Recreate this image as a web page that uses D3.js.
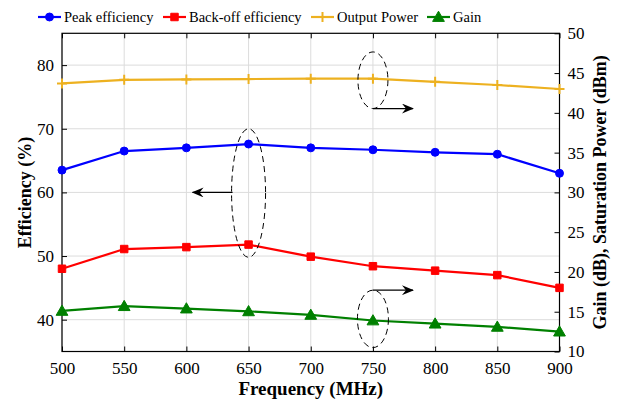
<!DOCTYPE html>
<html>
<head>
<meta charset="utf-8">
<script src="https://cdn.jsdelivr.net/npm/d3@7"></script>
<style>
  body { margin: 0; background: #fff; }
  svg text { font-family: "Liberation Serif", "Tinos", "Times New Roman", "DejaVu Serif", serif; }
</style>
</head>
<body>
<svg id="chart"></svg>
<script>
const W = 617, H = 403;
const M = { l: 62, r: 57.5, t: 33.3, b: 51.5 };
const FONT = '"Liberation Serif", "Tinos", "Times New Roman", "DejaVu Serif", serif';

const freq = [500, 550, 600, 650, 700, 750, 800, 850, 900];
const peakEff = [63.5, 66.5, 67.0, 67.6, 67.0, 66.7, 66.3, 66.0, 63.0];
const backoffEff = [48.0, 51.1, 51.4, 51.8, 49.9, 48.4, 47.7, 47.0, 45.0];
const outPower = [43.7, 44.15, 44.2, 44.25, 44.3, 44.3, 43.9, 43.5, 43.0];
const gain = [15.1, 15.7, 15.4, 15.05, 14.6, 13.9, 13.5, 13.1, 12.5];

const xTicks = [500, 550, 600, 650, 700, 750, 800, 850, 900];
const leftTicks = [40, 50, 60, 70, 80];
const rightTicks = [10, 15, 20, 25, 30, 35, 40, 45, 50];

const series = [
  { name: "Peak efficiency", vals: peakEff, axis: "L", color: "#0000ff", mark: "circle" },
  { name: "Back-off efficiency", vals: backoffEff, axis: "L", color: "#ff0000", mark: "square" },
  { name: "Output Power", vals: outPower, axis: "R", color: "#edb120", mark: "plus" },
  { name: "Gain", vals: gain, axis: "R", color: "#008000", mark: "triangle" }
];

const svg = d3.select("#chart").attr("width", W).attr("height", H)
  .attr("font-family", FONT);
const x = d3.scaleLinear().domain([500, 900]).range([M.l, W - M.r]);
const yL = d3.scaleLinear().domain([35, 85]).range([H - M.b, M.t]);
const yR = d3.scaleLinear().domain([10, 50]).range([H - M.b, M.t]);

// grid
const grid = svg.append("g").attr("stroke", "#dcdcdc").attr("stroke-width", 1);
grid.selectAll(".gx").data(xTicks).join("line")
  .attr("x1", d => x(d)).attr("x2", d => x(d)).attr("y1", M.t).attr("y2", H - M.b);
grid.selectAll(".gy").data(leftTicks).join("line")
  .attr("x1", M.l).attr("x2", W - M.r).attr("y1", d => yL(d)).attr("y2", d => yL(d));

// axes (ticks inward)
const styleAxis = (g) => {
  g.attr("font-family", FONT).attr("font-size", 17);
  g.select(".domain").remove();
  g.selectAll(".tick line").attr("stroke", "#000").attr("stroke-width", 1);
  g.selectAll(".tick text").attr("fill", "#000");
};
svg.append("g").attr("transform", `translate(0,${H - M.b})`)
  .call(d3.axisBottom(x).tickValues(xTicks).tickSize(-5).tickPadding(10))
  .call(styleAxis);
svg.append("g").attr("transform", `translate(0,${M.t})`)
  .call(d3.axisTop(x).tickValues(xTicks).tickSize(-5).tickFormat(""))
  .call(styleAxis);
svg.append("g").attr("transform", `translate(${M.l},0)`)
  .call(d3.axisLeft(yL).tickValues(leftTicks).tickSize(-5).tickPadding(8))
  .call(styleAxis);
svg.append("g").attr("transform", `translate(${W - M.r},0)`)
  .call(d3.axisRight(yR).tickValues(rightTicks).tickSize(-5).tickPadding(8))
  .call(styleAxis);

svg.append("rect").attr("x", M.l).attr("y", M.t)
  .attr("width", W - M.r - M.l).attr("height", H - M.b - M.t)
  .attr("fill", "none").attr("stroke", "#000").attr("stroke-width", 1.2);

// markers
const sym = {
  circle: d3.symbol(d3.symbolCircle, 50),
  square: d3.symbol(d3.symbolSquare, 56),
  triangle: d3.symbol(d3.symbolTriangle, 60)
};
function drawMarker(g, s, px, py) {
  if (s.mark === "plus") {
    g.append("path").attr("d", `M${px - 5},${py}H${px + 5}M${px},${py - 5}V${py + 5}`)
      .attr("stroke", s.color).attr("stroke-width", 2).attr("fill", "none");
  } else {
    g.append("path").attr("d", sym[s.mark]())
      .attr("transform", `translate(${px},${py + (s.mark === "triangle" ? 1 : 0)})`)
      .attr("fill", s.color).attr("stroke", s.color).attr("stroke-width", 1);
  }
}

series.forEach(s => {
  const y = s.axis === "L" ? yL : yR;
  const pts = freq.map((f, i) => [x(f), y(s.vals[i])]);
  const g = svg.append("g");
  g.append("path").attr("d", d3.line()(pts)).attr("fill", "none")
    .attr("stroke", s.color).attr("stroke-width", 2.2);
  pts.forEach(p => drawMarker(g, s, p[0], p[1]));
});

// annotations
const defs = svg.append("defs");
defs.append("marker").attr("id", "ah").attr("viewBox", "0 0 12 10")
  .attr("refX", 11).attr("refY", 5).attr("markerWidth", 12).attr("markerHeight", 10)
  .attr("markerUnits", "userSpaceOnUse").attr("orient", "auto")
  .append("path").attr("d", "M0,0L12,5L0,10L4,5Z").attr("fill", "#000");

const ann = svg.append("g").attr("stroke", "#000").attr("fill", "none");
const ell = (cxv, cyv, rx, ry) => ann.append("ellipse")
  .attr("cx", cxv).attr("cy", cyv).attr("rx", rx).attr("ry", ry)
  .attr("stroke-dasharray", "6,4").attr("stroke-width", 1);
ell(x(650), (yL(70) + yL(49.8)) / 2, 17, (yL(49.8) - yL(70)) / 2);
ell(x(750), yR(44.1), 15, 28.3);
ell(x(750), yR(14.1), 15.5, 28.7);
const arr = (x1, y1, x2, y2) => ann.append("line")
  .attr("x1", x1).attr("y1", y1).attr("x2", x2).attr("y2", y2)
  .attr("stroke-width", 1.2).attr("marker-end", "url(#ah)");
arr(x(650) - 16, yL(60), x(650) - 56, yL(60));
arr(x(750), yR(44.1) + 28.3, x(750) + 40, yR(44.1) + 28.3);
arr(x(750), yR(14.1) - 28.7, x(750) + 40, yR(14.1) - 28.7);

// axis labels
const label = (t, fsz) => svg.append("text").attr("text-anchor", "middle")
  .attr("font-size", fsz).attr("font-weight", "bold").attr("fill", "#000").text(t);
label("Frequency (MHz)", 19).attr("x", (M.l + W - M.r) / 2).attr("y", 395);
label("Efficiency (%)", 18).attr("transform", `translate(31,${(M.t + H - M.b) / 2}) rotate(-90)`);
label("Gain (dB), Saturation Power (dBm)", 18)
  .attr("transform", `translate(606,${(M.t + H - M.b) / 2}) rotate(-90)`);

// legend
const leg = svg.append("g");
const legX = [38, 163, 311, 427];
series.forEach((s, i) => {
  const lx = legX[i], ly = 17;
  leg.append("line").attr("x1", lx).attr("x2", lx + 23).attr("y1", ly).attr("y2", ly)
    .attr("stroke", s.color).attr("stroke-width", 2.2);
  drawMarker(leg, s, lx + 11.5, ly);
  leg.append("text").attr("x", lx + 26).attr("y", ly + 5).attr("font-size", 14.5)
    .attr("fill", "#000").text(s.name);
});
</script>
</body>
</html>
